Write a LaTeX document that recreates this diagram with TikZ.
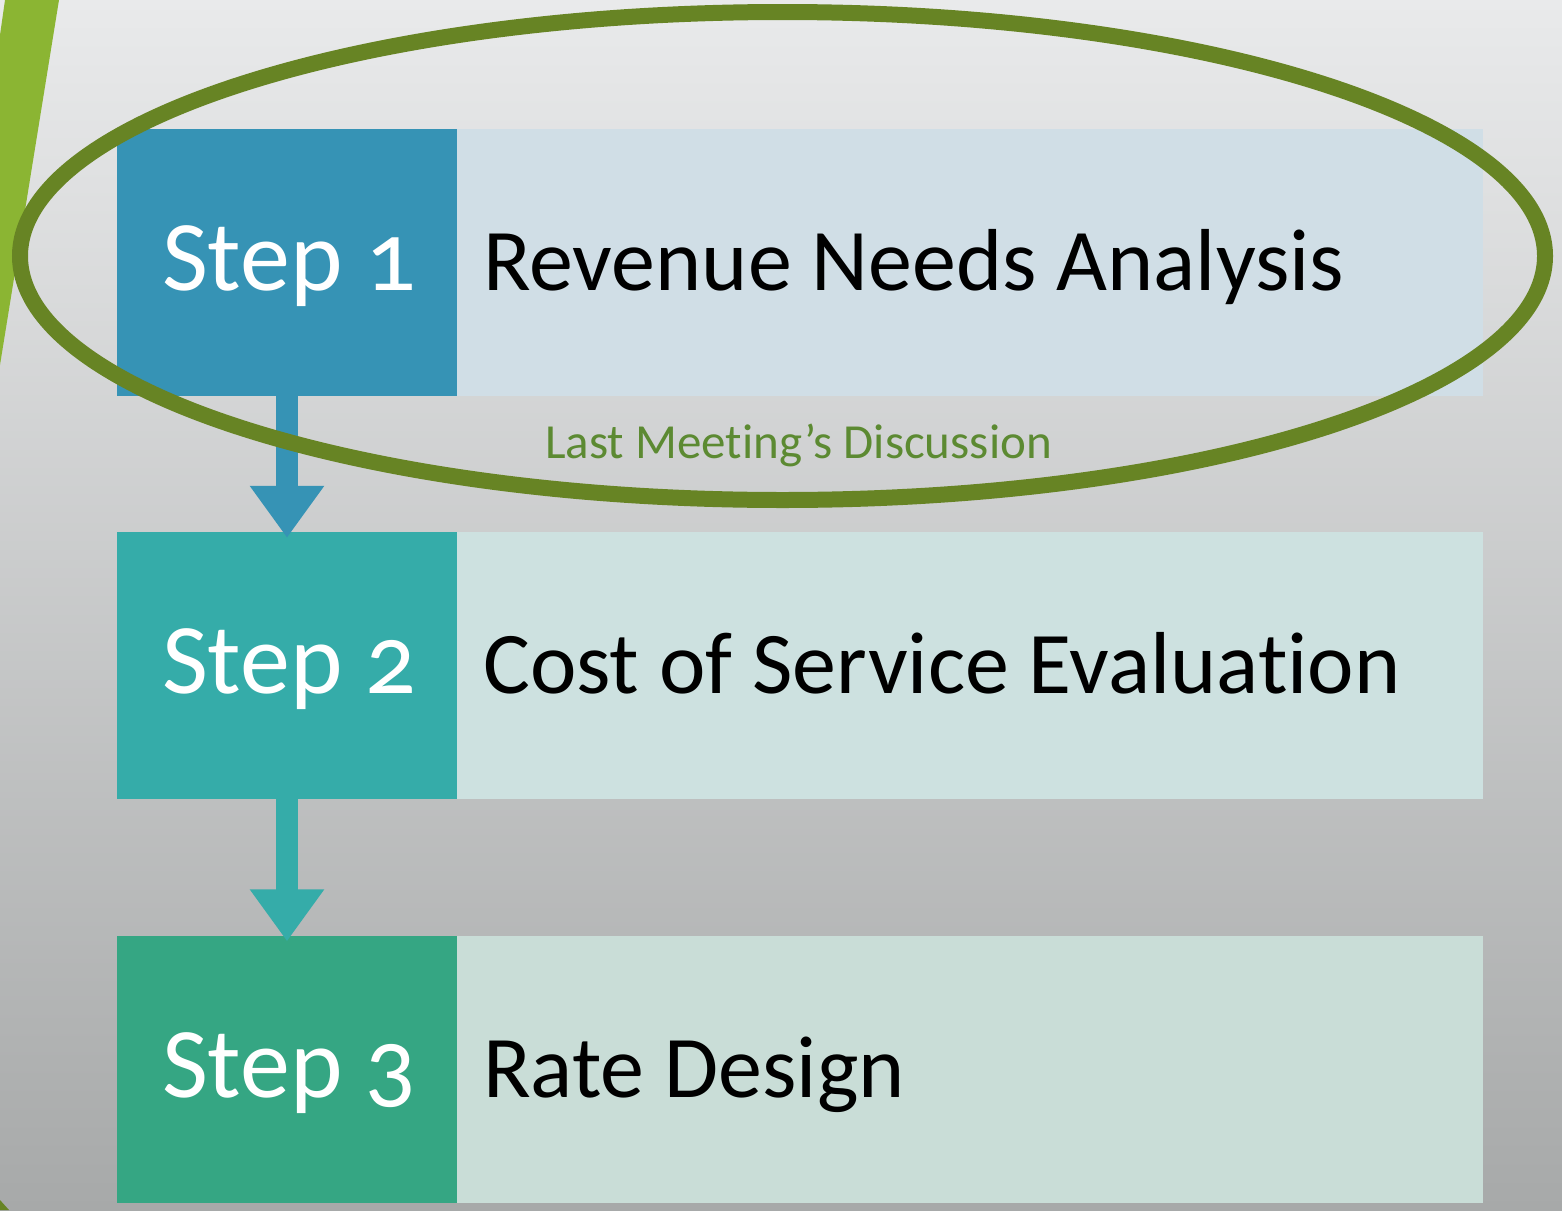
\documentclass[tikz,border=0pt]{standalone}
\usepackage{fontspec}
\setmainfont{Carlito}[Numbers=OldStyle, Ligatures=NoCommon]
\usetikzlibrary{arrows.meta}
\definecolor{bgtop}{HTML}{E9EAEB}
\definecolor{bgmid}{HTML}{D3D4D5}
\definecolor{bgbot}{HTML}{A7A9A9}
\definecolor{stripegreen}{HTML}{8BB533}
\definecolor{ringgreen}{HTML}{678424}
\definecolor{textgreen}{HTML}{5C8A32}
\definecolor{oned}{HTML}{3693B5}
\definecolor{onel}{HTML}{D0DEE6}
\definecolor{twod}{HTML}{35ACA9}
\definecolor{twol}{HTML}{CDE1E0}
\definecolor{threed}{HTML}{35A683}
\definecolor{threel}{HTML}{C9DDD7}
\tikzset{
  darkbox/.style={draw=none, inner sep=0pt, minimum width=340pt, minimum height=267pt},
  lightbox/.style={draw=none, inner sep=0pt, minimum width=1026pt, minimum height=267pt},
  steptext/.style={text=white, inner sep=0pt, anchor=base, font=\fontsize{100}{120}\selectfont},
  desctext/.style={text=black, inner sep=0pt, anchor=base west, font=\fontsize{88}{106}\selectfont},
  flowarrow/.style={line width=22pt, -{Triangle[width=71pt,length=52pt]}},
}
\begin{document}
\begin{tikzpicture}[x=1pt,y=-1pt]
\useasboundingbox (0,0) rectangle (1562,1210);
\shade[top color=bgtop, middle color=bgmid, bottom color=bgbot] (0,0) rectangle (1562,1210);
\fill[stripegreen] (5,0) -- (59,0) -- (0,365) -- (0,35) -- cycle;
\fill[ringgreen] (0,1200) -- (9,1210) -- (0,1210) -- cycle;
% boxes
\node[darkbox, fill=oned] (s1) at (287,262.5) {};
\node[lightbox, fill=onel, anchor=west] (d1) at (s1.east) {};
\node[darkbox, fill=twod] (s2) at (287,665.5) {};
\node[lightbox, fill=twol, anchor=west] (d2) at (s2.east) {};
\node[darkbox, fill=threed] (s3) at (287,1069) {};
\node[lightbox, fill=threel, anchor=west] (d3) at (s3.east) {};
% texts
\node[steptext] (t1) at (289,290) {Step 1};
\node[steptext] (t2) at (289,693.5) {Step 2};
\node[steptext] (t3) at (289,1097) {Step 3};
\node[desctext] (r1) at (483,290) {Revenue Needs Analysis};
\node[desctext] (r2) at (483,693.5) {Cost of Service Evaluation};
\node[desctext] (r3) at (483,1097) {Rate Design};
% arrows
\draw[flowarrow, oned] (s1.south) -- ([yshift=-6pt]s2.north);
\draw[flowarrow, twod] (s2.south) -- ([yshift=-6pt]s3.north);
% ring and label
\draw[ringgreen, line width=16pt] (782.5,256) ellipse [x radius=762.5, y radius=244];
\node[text=textgreen, inner sep=0pt, anchor=base west, font=\fontsize{49}{59}\selectfont] (lm) at (545,458) {Last Meeting’s Discussion};
\end{tikzpicture}
\end{document}
